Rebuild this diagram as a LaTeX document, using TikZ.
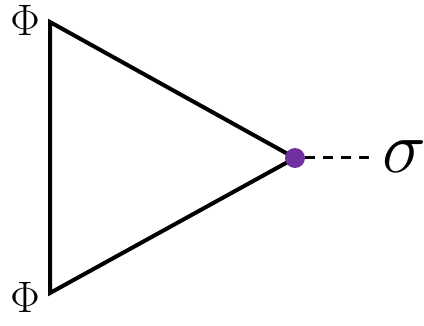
\RequirePackage{fix-cm}
\documentclass[tikz,border=0pt]{standalone}
\definecolor{dotpurple}{RGB}{112,48,160}
\tikzset{
  edge/.style={line width=4pt, line join=miter},
  lbl/.style={inner sep=0pt, font=\fontsize{44}{46}\selectfont},
  dashline/.style={line width=3pt, dash pattern=on 10pt off 8pt},
}
\begin{document}
\begin{tikzpicture}[x=1pt,y=-1pt]
\useasboundingbox (0,0) rectangle (424,326);
\coordinate (t) at (50,22);
\coordinate (b) at (50,293);
\coordinate (v) at (295,158);
\coordinate (e) at (375,158);
\draw[edge] (t) -- (v) -- (b) -- cycle;
\draw[dashline] (v) ++(10,0) -- (e);
\node[circle, fill=dotpurple, minimum size=20pt, inner sep=0pt] (dot) at (v) {};
\node[lbl] (phi1) at (25,20) {$\Phi$};
\node[lbl] (phi2) at (25,297) {$\Phi$};
\node[lbl, font=\fontsize{74}{76}\selectfont] (sig) at (404,157) {$\sigma$};
\end{tikzpicture}
\end{document}
